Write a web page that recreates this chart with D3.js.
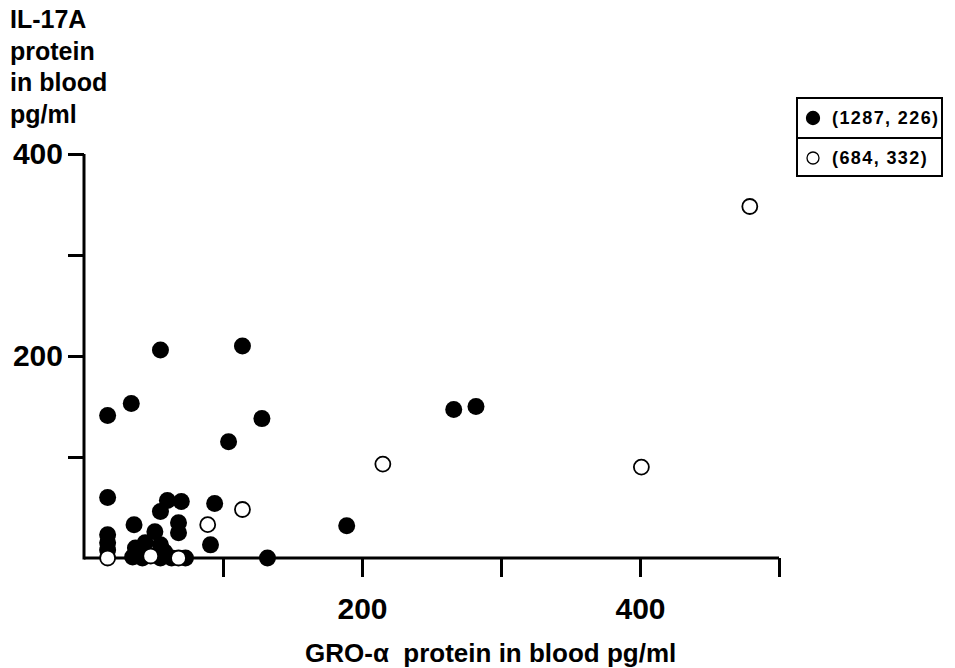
<!DOCTYPE html>
<html>
<head>
<meta charset="utf-8">
<script src="https://cdn.jsdelivr.net/npm/d3@7"></script>
<style>
  body { margin: 0; background: #fff; }
  text { font-family: "Liberation Sans", Arial, sans-serif; font-weight: bold; fill: #000; }
</style>
</head>
<body>
<div id="chart"></div>
<script>
// filled group (1287, 226)
const filledX = [55, 114, 17, 34, 104, 128, 266, 282, 189, 132, 17, 60, 70, 55, 94, 36, 68, 68, 91, 17, 17, 51, 37, 44, 55, 58, 35, 42, 55, 63, 73, 17];
const filledY = [206, 210, 141, 153, 115, 138, 147, 150, 32, 0, 60, 57, 56, 46, 54, 33, 35, 25, 13, 23, 15, 26, 10, 15, 13, 6, 1, 0, 0, 0, 0, 8];
// open group (684, 332)
const openX = [479, 401, 215, 114, 89, 17, 48, 68];
const openY = [348, 90, 93, 48, 33, 0, 2, 0];

const legendLabels = ["(1287, 226)", "(684, 332)"];
const yTitle = ["IL-17A", "protein", "in blood", "pg/ml"];
const xTitle = "GRO-α  protein in blood pg/ml";
const xTicks = [100, 200, 300, 400, 500];
const yTicks = [100, 200, 300, 400];
const labelled = [200, 400];

const width = 955, height = 668;
const svg = d3.select("#chart").append("svg").attr("width", width).attr("height", height);

const x = d3.scaleLinear().domain([0, 500]).range([84, 779]);
const y = d3.scaleLinear().domain([0, 400]).range([558, 154]);

// axes
const xAxis = d3.axisBottom(x).tickValues(xTicks).tickSize(19).tickPadding(21)
  .tickFormat(d => labelled.includes(d) ? d : "");
const yAxis = d3.axisLeft(y).tickValues(yTicks).tickSize(16).tickPadding(5)
  .tickFormat(d => labelled.includes(d) ? d : "");

const gx = svg.append("g").attr("transform", `translate(0,${y(0)})`).call(xAxis);
const gy = svg.append("g").attr("transform", `translate(${x(0)},0)`).call(yAxis);
[gx, gy].forEach(g => {
  g.select(".domain").remove();
  g.selectAll(".tick line").attr("stroke", "#000").attr("stroke-width", 3);
  g.selectAll(".tick text").style("font-size", "30px").attr("fill", "#000");
});

// axis lines
svg.append("line").attr("x1", x(0)).attr("x2", x(500)).attr("y1", y(0)).attr("y2", y(0))
  .attr("stroke", "#000").attr("stroke-width", 3);
svg.append("line").attr("x1", x(0)).attr("x2", x(0)).attr("y1", y(0) + 1.5).attr("y2", y(400))
  .attr("stroke", "#000").attr("stroke-width", 3);

// titles
svg.append("text").selectAll("tspan").data(yTitle).join("tspan")
  .attr("x", 10).attr("y", (d, i) => 28 + i * 31.5)
  .style("font-size", "25px").text(d => d);
svg.append("text").attr("x", 305).attr("y", 662)
  .style("font-size", "26px").style("white-space", "pre").attr("xml:space", "preserve").text(xTitle);

// points
const filled = filledX.map((v, i) => ({ x: v, y: filledY[i] }));
const open = openX.map((v, i) => ({ x: v, y: openY[i] }));

svg.append("g").selectAll("circle").data(filled).join("circle")
  .attr("cx", d => x(d.x)).attr("cy", d => y(d.y)).attr("r", 8.5)
  .attr("fill", "#000");
svg.append("g").selectAll("circle").data(open).join("circle")
  .attr("cx", d => x(d.x)).attr("cy", d => y(d.y)).attr("r", 7.5)
  .attr("fill", "#fff").attr("stroke", "#000").attr("stroke-width", 1.8);

// legend
const lg = svg.append("g").attr("transform", "translate(797,98)");
const rowY = [0, 40], rowH = [40, 38];
lg.selectAll("rect").data(legendLabels).join("rect")
  .attr("x", 0).attr("y", (d, i) => rowY[i]).attr("width", 145).attr("height", (d, i) => rowH[i])
  .attr("fill", "#fff").attr("stroke", "#000").attr("stroke-width", 2);
lg.selectAll("circle").data(legendLabels).join("circle")
  .attr("cx", 16).attr("cy", (d, i) => rowY[i] + 20).attr("r", (d, i) => i === 0 ? 6.5 : 6)
  .attr("fill", (d, i) => i === 0 ? "#000" : "#fff")
  .attr("stroke", "#000").attr("stroke-width", 1.3);
lg.selectAll("text").data(legendLabels).join("text")
  .attr("x", 35).attr("y", (d, i) => rowY[i] + 26)
  .style("font-size", "18px").style("letter-spacing", "1.4px").text(d => d);
</script>
</body>
</html>
